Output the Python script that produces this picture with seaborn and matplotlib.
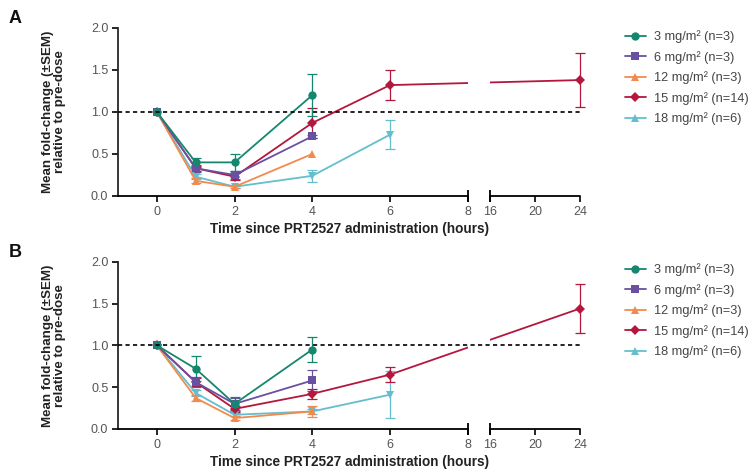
import matplotlib

matplotlib.use("Agg")
import matplotlib.pyplot as plt  # noqa: E402
import numpy as np  # noqa: E402
import pandas as pd  # noqa: E402
import seaborn as sns  # noqa: E402
from matplotlib.lines import Line2D  # noqa: E402

sns.set_theme(style="ticks")
plt.rcParams["font.family"] = ["Liberation Sans", "DejaVu Sans"]

# ---------------------------------------------------------------------------
# data
# ---------------------------------------------------------------------------
DOSES = ["3 mg/m² (n=3)", "6 mg/m² (n=3)", "12 mg/m² (n=3)",
         "15 mg/m² (n=14)", "18 mg/m² (n=6)"]
COLORS = ["#16876f", "#6a50a0", "#f28a4e", "#b4173e", "#63bfcd"]
PLOT_MARKERS = ["o", "s", "^", "D", "v"]
LEGEND_MARKERS = ["o", "s", "^", "D", "^"]
MARKER_SIZES = [6, 5.8, 6, 4.8, 6]

T_SHORT = [0, 1, 2, 4]
T_MID = [0, 1, 2, 4, 6]
T_LONG = [0, 1, 2, 4, 6, 24]
DOSE_TIMES = [T_SHORT, T_SHORT, T_SHORT, T_LONG, T_MID]

# panel A
A_MEAN_3 = [1.0, 0.40, 0.40, 1.20]
A_SEM_3 = [0, 0.05, 0.10, 0.25]
A_MEAN_6 = [1.0, 0.33, 0.25, 0.71]
A_SEM_6 = [0, 0.04, 0.05, 0.02]
A_MEAN_12 = [1.0, 0.18, 0.11, 0.50]
A_SEM_12 = [0, 0.03, 0.02, 0]
A_MEAN_15 = [1.0, 0.33, 0.23, 0.87, 1.32, 1.38]
A_SEM_15 = [0, 0.03, 0.04, 0.18, 0.18, 0.32]
A_MEAN_18 = [1.0, 0.23, 0.11, 0.24, 0.73]
A_SEM_18 = [0, 0.03, 0.01, 0.07, 0.17]

# panel B
B_MEAN_3 = [1.0, 0.72, 0.30, 0.95]
B_SEM_3 = [0, 0.15, 0.08, 0.15]
B_MEAN_6 = [1.0, 0.56, 0.30, 0.58]
B_SEM_6 = [0, 0.06, 0.07, 0.13]
B_MEAN_12 = [1.0, 0.37, 0.13, 0.21]
B_SEM_12 = [0, 0.04, 0.02, 0.07]
B_MEAN_15 = [1.0, 0.56, 0.24, 0.42, 0.65, 1.44]
B_SEM_15 = [0, 0.05, 0.04, 0.06, 0.09, 0.29]
B_MEAN_18 = [1.0, 0.43, 0.17, 0.21, 0.41]
B_SEM_18 = [0, 0.04, 0.02, 0.03, 0.28]

A_MEANS = [A_MEAN_3, A_MEAN_6, A_MEAN_12, A_MEAN_15, A_MEAN_18]
A_SEMS = [A_SEM_3, A_SEM_6, A_SEM_12, A_SEM_15, A_SEM_18]
B_MEANS = [B_MEAN_3, B_MEAN_6, B_MEAN_12, B_MEAN_15, B_MEAN_18]
B_SEMS = [B_SEM_3, B_SEM_6, B_SEM_12, B_SEM_15, B_SEM_18]

X_TICKS = [0, 2, 4, 6, 8, 16, 20, 24]
Y_TICKS = [0.0, 0.5, 1.0, 1.5, 2.0]

# broken x axis: 8..16 squeezed into a small gap, 16..24 compressed
GAP = 0.57
K = 0.29


def fwd(x):
    x = np.asarray(x, float)
    return np.where(x <= 8, x,
                    np.where(x >= 16, 8 + GAP + (x - 16) * K, 8 + (x - 8) * GAP / 8))


def inv(y):
    y = np.asarray(y, float)
    return np.where(y <= 8, y,
                    np.where(y >= 8 + GAP, 16 + (y - 8 - GAP) / K, 8 + (y - 8) * 8 / GAP))


def build_frame(means, sems):
    rows = []
    for dose, times, m, s in zip(DOSES, DOSE_TIMES, means, sems):
        for t, mv, sv in zip(times, m, s):
            rows.append({"dose": dose, "time": t, "mean": mv, "sem": sv})
    return pd.DataFrame(rows)


def draw_panel(ax, means, sems, letter):
    df = build_frame(means, sems)
    # last dose in the legend is drawn first so 3 mg/m² ends on top
    for i in reversed(range(len(DOSES))):
        dose = DOSES[i]
        g = df[df["dose"] == dose]
        e = g[g["sem"] > 0]
        eb = ax.errorbar(e["time"], e["mean"], yerr=e["sem"], fmt="none",
                         ecolor=COLORS[i], elinewidth=0.9,
                         capsize=3.5, capthick=0.9, zorder=1.8)
        for art in eb.lines[1] + eb.lines[2]:
            art.set_clip_on(False)
        sns.lineplot(
            data=g, x="time", y="mean", color=COLORS[i],
            marker=PLOT_MARKERS[i], markersize=MARKER_SIZES[i],
            markeredgewidth=0, linewidth=1.3,
            errorbar=None, legend=False, ax=ax, clip_on=False,
        )
    ax.set_xscale("function", functions=(fwd, inv))
    ax.set_xlim(-1, 24)
    ax.set_ylim(0, 2)
    ax.set_xticks(X_TICKS)
    ax.set_xticklabels([str(t) for t in X_TICKS])
    ax.set_yticks(Y_TICKS)
    ax.set_yticklabels([f"{v:.1f}" for v in Y_TICKS])
    ax.xaxis.set_minor_locator(matplotlib.ticker.NullLocator())

    # blank the gap for data lines, keep the reference line on top
    ax.axvspan(8, 16, color="white", zorder=2.5, lw=0)
    ax.axhline(1.0, color="black", lw=1.2, ls=(0, (2.5, 2)), zorder=3)

    # broken bottom axis
    ax.spines[["top", "right", "bottom"]].set_visible(False)
    ax.spines["left"].set_linewidth(1.3)
    tr = ax.get_xaxis_transform()
    ax.plot([-1, 8], [0, 0], color="black", lw=1.3, transform=tr,
            clip_on=False, zorder=5)
    ax.plot([16, 24], [0, 0], color="black", lw=1.3, transform=tr,
            clip_on=False, zorder=5)
    ax.plot([8, 16], [0, 0], ls="none", marker="|", markersize=8, mew=1.3,
            color="black", transform=tr, clip_on=False, zorder=5)

    ax.tick_params(direction="out", length=4, width=1.2, labelsize=9,
                   labelcolor="#555555", color="black", pad=3)
    ax.set_xlabel("Time since PRT2527 administration (hours)",
                  fontsize=9.8, fontweight="bold", color="#222222", labelpad=3)
    ax.set_ylabel("Mean fold-change (±SEM)\nrelative to pre-dose",
                  fontsize=9.6, fontweight="bold", color="#222222",
                  linespacing=1.05)
    ax.yaxis.set_label_coords(-0.112, 0.5)
    ax.text(-0.236, 1.055, letter, transform=ax.transAxes, fontsize=13,
            fontweight="bold", ha="left", va="center", color="#111111")


def add_legend(fig, y_top):
    handles = [
        Line2D([0], [0], color=c, marker=m, markersize=s, mew=0, lw=1.3)
        for c, m, s in zip(COLORS, LEGEND_MARKERS, MARKER_SIZES)
    ]
    leg = fig.legend(handles, DOSES, loc="upper left",
                     bbox_to_anchor=(0.831, y_top), frameon=False,
                     fontsize=9.2, handlelength=1.65, handletextpad=0.65,
                     labelspacing=0.6, borderpad=0, borderaxespad=0)
    for t in leg.get_texts():
        t.set_color("#444444")


fig = plt.figure(figsize=(7.52, 4.71), dpi=100)
ax_a = fig.add_axes([0.1569, 0.5839, 0.6144, 0.3567])
ax_b = fig.add_axes([0.1569, 0.0892, 0.6144, 0.3552])
draw_panel(ax_a, A_MEANS, A_SEMS, "A")
draw_panel(ax_b, B_MEANS, B_SEMS, "B")
add_legend(fig, 0.935)
add_legend(fig, 0.441)

fig.savefig("out.png", dpi=100)
plt.close(fig)
